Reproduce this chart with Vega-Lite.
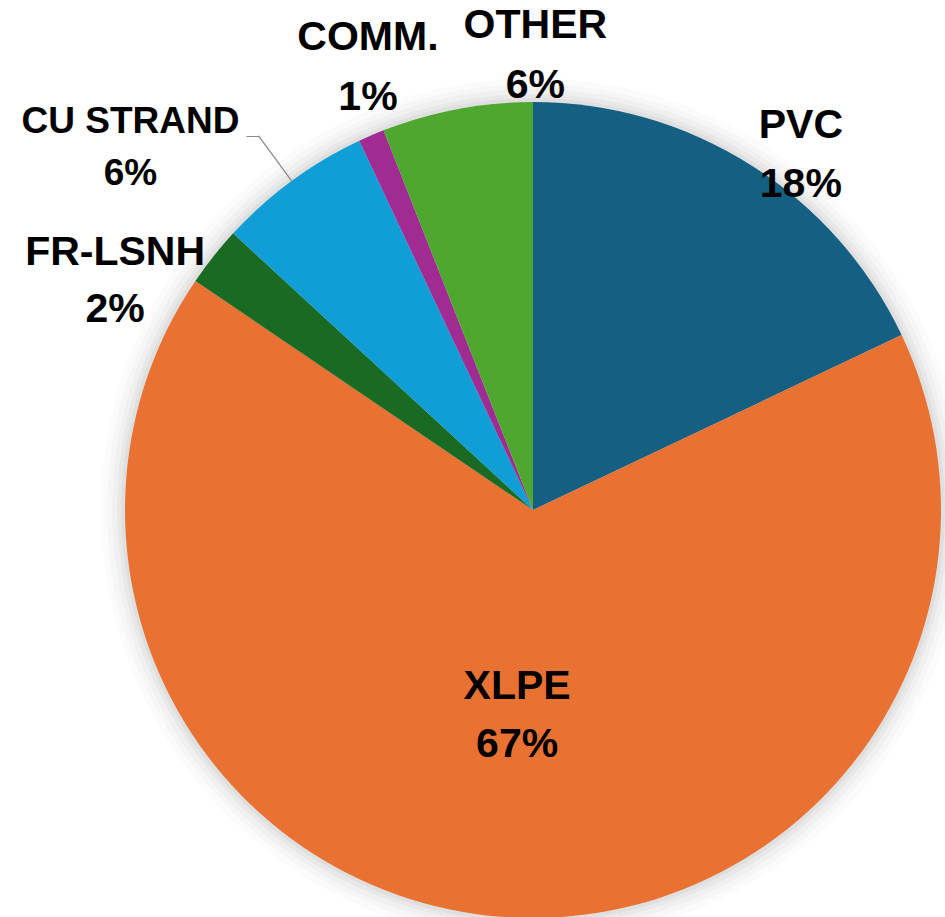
{
  "$schema": "https://vega.github.io/schema/vega-lite/v6.json",
  "width": 824,
  "height": 814,
  "autosize": {"type": "none"},
  "padding": {"left": 121, "top": 103, "right": 0, "bottom": 0},
  "background": "white",
  "config": {"view": {"stroke": null}, "text": {"font": "Liberation Sans"}},
  "data": {
    "values": [
      {"idx": 1, "cat": "PVC", "value": 17.95, "label": "PVC\n18%"},
      {"idx": 2, "cat": "XLPE", "value": 66.54, "label": "XLPE\n67%"},
      {"idx": 3, "cat": "FR-LSNH", "value": 2.37, "label": "FR-LSNH\n2%"},
      {"idx": 4, "cat": "CU STRAND", "value": 6.14, "label": "CU STRAND\n6%"},
      {"idx": 5, "cat": "COMM.", "value": 1.03, "label": "COMM.\n1%"},
      {"idx": 6, "cat": "OTHER", "value": 5.97, "label": "OTHER\n6%"}
    ]
  },
  "layer": [
    {"data": {"values": [{"ring": 1}]}, "mark": {"type": "arc", "theta": 0, "theta2": 6.2832, "radius": 432, "fill": "#000", "opacity": 0.015}, "encoding": {}},
    {"data": {"values": [{"ring": 2}]}, "mark": {"type": "arc", "theta": 0, "theta2": 6.2832, "radius": 426, "fill": "#000", "opacity": 0.02}, "encoding": {}},
    {"data": {"values": [{"ring": 3}]}, "mark": {"type": "arc", "theta": 0, "theta2": 6.2832, "radius": 421, "fill": "#000", "opacity": 0.025}, "encoding": {}},
    {"data": {"values": [{"ring": 4}]}, "mark": {"type": "arc", "theta": 0, "theta2": 6.2832, "radius": 416, "fill": "#000", "opacity": 0.03}, "encoding": {}},
    {"data": {"values": [{"ring": 5}]}, "mark": {"type": "arc", "theta": 0, "theta2": 6.2832, "radius": 412, "fill": "#000", "opacity": 0.035}, "encoding": {}},
    {
      "mark": {"type": "arc", "radius": 408},
      "encoding": {
        "theta": {"field": "value", "type": "quantitative", "stack": true},
        "order": {"field": "idx", "type": "quantitative"},
        "color": {
          "field": "cat",
          "type": "nominal",
          "scale": {
            "domain": ["PVC", "XLPE", "FR-LSNH", "CU STRAND", "COMM.", "OTHER"],
            "range": ["#156082", "#E97132", "#196B24", "#0F9ED5", "#A02B93", "#4EA72E"]
          },
          "legend": null
        }
      }
    },
    {
      "transform": [
        {"window": [{"op": "sum", "field": "value", "as": "cum"}], "sort": [{"field": "idx"}], "frame": [null, 0]},
        {"calculate": "datum.cum - datum.value / 2", "as": "mid"},
        {"filter": "datum.cat === 'CU STRAND'"}
      ],
      "mark": {"type": "arc", "radius": 464, "radius2": 407, "stroke": "#8c8c8c", "strokeWidth": 1.3, "fillOpacity": 0},
      "encoding": {
        "theta": {"field": "mid", "type": "quantitative", "stack": null},
        "theta2": {"field": "mid"}
      }
    },
    {
      "transform": [
        {"window": [{"op": "sum", "field": "value", "as": "cum"}], "sort": [{"field": "idx"}], "frame": [null, 0]},
        {"calculate": "datum.cum - datum.value / 2", "as": "mid"},
        {"filter": "datum.cat === 'CU STRAND'"}
      ],
      "mark": {"type": "text", "text": "—", "radius": 464, "align": "right", "baseline": "middle", "fontSize": 13, "fill": "#8c8c8c", "dx": 1},
      "encoding": {
        "theta": {"field": "mid", "type": "quantitative", "stack": null}
      }
    },
    {
      "mark": {"type": "text", "radius": 207, "dy": -29, "fontSize": 41, "fontWeight": "bold", "lineBreak": "\n", "lineHeight": 58, "align": "center", "baseline": "middle", "fill": "#000"},
      "encoding": {
        "theta": {"field": "value", "type": "quantitative", "stack": true},
        "order": {"field": "idx", "type": "quantitative"},
        "text": {"condition": {"test": "datum.cat === 'XLPE'", "field": "label"}, "value": ""}
      }
    },
    {
      "mark": {"type": "text", "radius": 445, "dx": 30, "dy": -8, "fontSize": 41, "fontWeight": "bold", "lineBreak": "\n", "lineHeight": 59, "align": "center", "baseline": "middle", "fill": "#000"},
      "encoding": {
        "theta": {"field": "value", "type": "quantitative", "stack": true},
        "order": {"field": "idx", "type": "quantitative"},
        "text": {"condition": {"test": "datum.cat === 'PVC'", "field": "label"}, "value": ""}
      }
    },
    {
      "mark": {"type": "text", "radius": 476, "dx": -45, "dy": 39, "fontSize": 41, "fontWeight": "bold", "lineBreak": "\n", "lineHeight": 57, "align": "center", "baseline": "middle", "fill": "#000"},
      "encoding": {
        "theta": {"field": "value", "type": "quantitative", "stack": true},
        "order": {"field": "idx", "type": "quantitative"},
        "text": {"condition": {"test": "datum.cat === 'FR-LSNH'", "field": "label"}, "value": ""}
      }
    },
    {
      "mark": {"type": "text", "radius": 542, "dx": -82, "dy": 49, "fontSize": 37, "fontWeight": "bold", "lineBreak": "\n", "lineHeight": 52, "align": "center", "baseline": "middle", "fill": "#000"},
      "encoding": {
        "theta": {"field": "value", "type": "quantitative", "stack": true},
        "order": {"field": "idx", "type": "quantitative"},
        "text": {"condition": {"test": "datum.cat === 'CU STRAND'", "field": "label"}, "value": ""}
      }
    },
    {
      "mark": {"type": "text", "radius": 472, "dx": 22, "dy": -39, "fontSize": 41, "fontWeight": "bold", "lineBreak": "\n", "lineHeight": 60, "align": "center", "baseline": "middle", "fill": "#000"},
      "encoding": {
        "theta": {"field": "value", "type": "quantitative", "stack": true},
        "order": {"field": "idx", "type": "quantitative"},
        "text": {"condition": {"test": "datum.cat === 'COMM.'", "field": "label"}, "value": ""}
      }
    },
    {
      "mark": {"type": "text", "radius": 454, "dx": 87, "dy": -38, "fontSize": 41, "fontWeight": "bold", "lineBreak": "\n", "lineHeight": 60, "align": "center", "baseline": "middle", "fill": "#000"},
      "encoding": {
        "theta": {"field": "value", "type": "quantitative", "stack": true},
        "order": {"field": "idx", "type": "quantitative"},
        "text": {"condition": {"test": "datum.cat === 'OTHER'", "field": "label"}, "value": ""}
      }
    }
  ]
}
